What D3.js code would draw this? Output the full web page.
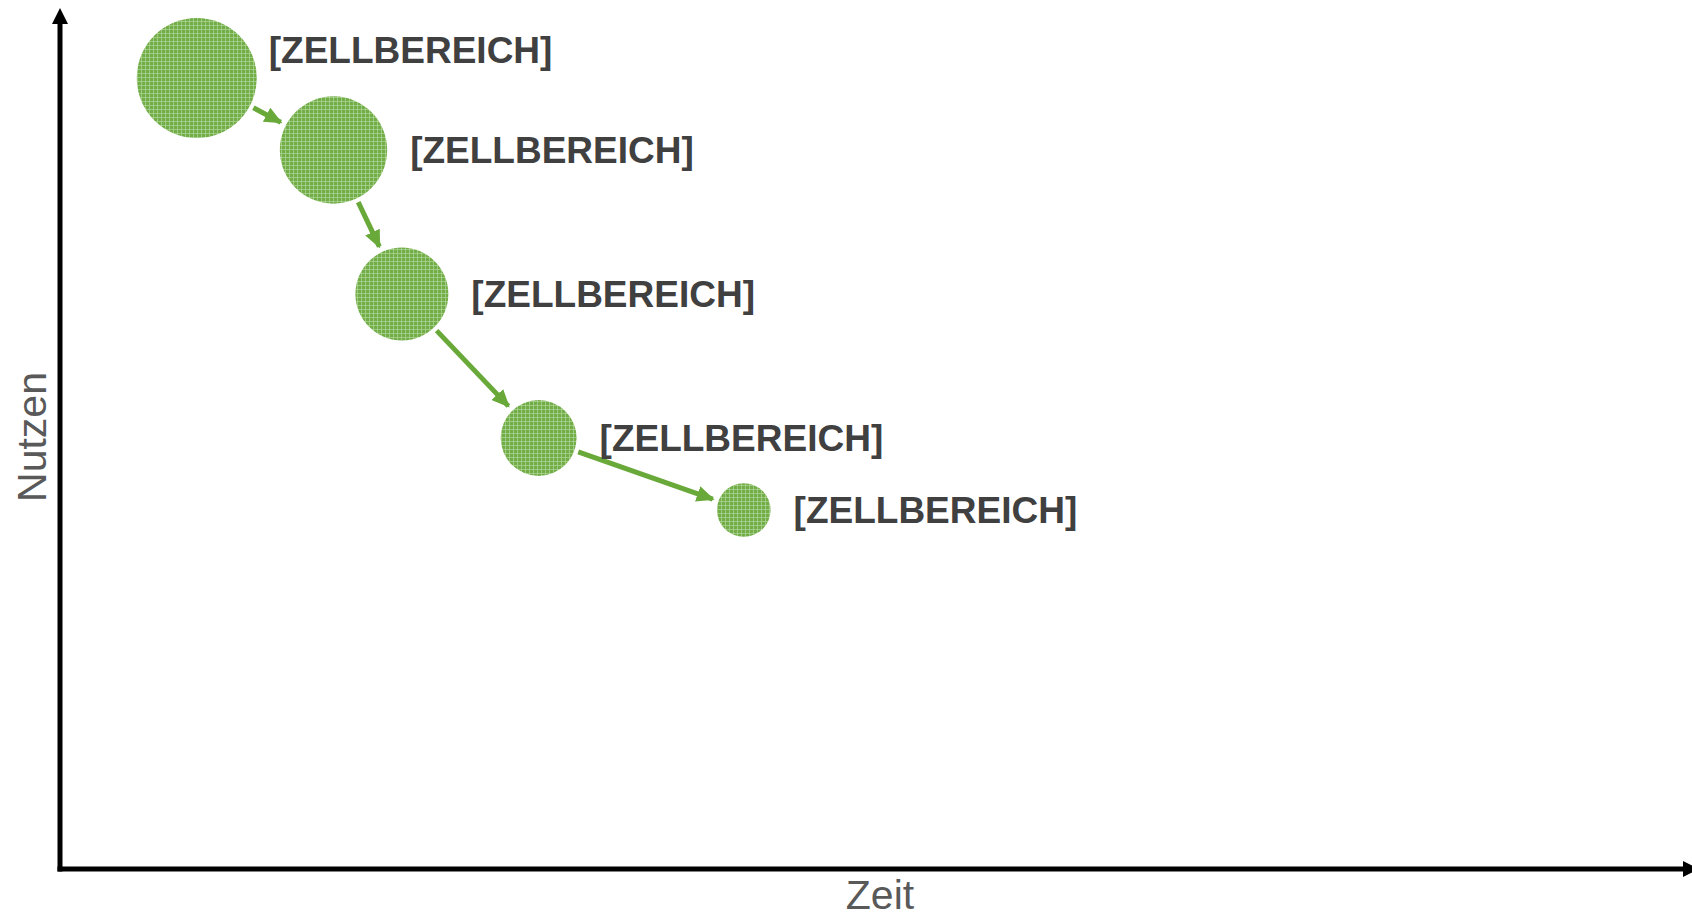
<!DOCTYPE html>
<html>
<head>
<meta charset="utf-8">
<script src="https://cdn.jsdelivr.net/npm/d3@7/dist/d3.min.js"></script>
<style>
  body { margin: 0; background: #fff; }
  svg { display: block; }
</style>
</head>
<body>
<svg id="chart" width="1692" height="918"></svg>
<script>
"use strict";

// chart data
var zeitValues = [1, 2, 2.5, 3.5, 5];          // x: Zeit
var nutzenValues = [11, 10, 8, 6, 5];          // y: Nutzen
var bubbleSizes = [100, 80, 60, 40, 20];       // bubble size
var bubbleLabels = ["[ZELLBEREICH]", "[ZELLBEREICH]", "[ZELLBEREICH]", "[ZELLBEREICH]", "[ZELLBEREICH]"];
var xTitle = "Zeit";
var yTitle = "Nutzen";

var svg = d3.select("#chart");
var width = +svg.attr("width");
var height = +svg.attr("height");

var green = "#69a93a";

var x = d3.scaleLinear().domain([0, 12]).range([60, 1701]);
var y = d3.scaleLinear().domain([0, 12]).range([870, 6]);
var r = d3.scaleSqrt().domain([0, 100]).range([0, 60]);

var axisY = 869; // x-axis line sits just above y(0)

var points = zeitValues.map(function (d, i) {
    return { x: d, y: nutzenValues[i], size: bubbleSizes[i], label: bubbleLabels[i] };
});

var defs = svg.append("defs");

// fine woven fill of the bubbles
var pat = defs.append("pattern")
    .attr("id", "weave")
    .attr("width", 8)
    .attr("height", 8)
    .attr("patternUnits", "userSpaceOnUse");
pat.append("rect").attr("width", 8).attr("height", 8).attr("fill", "#72ae48");
[[0, 1, 8, 1], [0, 5, 8, 1], [1, 0, 1, 8], [5, 0, 1, 8]].forEach(function (s) {
    pat.append("rect")
        .attr("x", s[0]).attr("y", s[1])
        .attr("width", s[2]).attr("height", s[3])
        .attr("fill", "#aed394")
        .attr("opacity", 0.75);
});

// arrow heads
defs.append("marker")
    .attr("id", "greenHead")
    .attr("markerUnits", "userSpaceOnUse")
    .attr("viewBox", "0 0 18 16")
    .attr("refX", 16)
    .attr("refY", 8)
    .attr("markerWidth", 18)
    .attr("markerHeight", 16)
    .attr("orient", "auto")
    .append("path")
    .attr("d", "M0,0 L18,8 L0,16 Z")
    .attr("fill", green);

defs.append("marker")
    .attr("id", "blackHead")
    .attr("markerUnits", "userSpaceOnUse")
    .attr("viewBox", "0 0 16 16")
    .attr("refX", 2)
    .attr("refY", 8)
    .attr("markerWidth", 16)
    .attr("markerHeight", 16)
    .attr("orient", "auto")
    .append("path")
    .attr("d", "M0,0 L16,8 L0,16 Z")
    .attr("fill", "#000");

// axes
svg.append("line")
    .attr("x1", x(0)).attr("y1", axisY + 2.5)
    .attr("x2", x(0)).attr("y2", 22)
    .attr("stroke", "#000")
    .attr("stroke-width", 5)
    .attr("marker-end", "url(#blackHead)");

svg.append("line")
    .attr("x1", x(0) - 2.5).attr("y1", axisY)
    .attr("x2", x(12) - 16).attr("y2", axisY)
    .attr("stroke", "#000")
    .attr("stroke-width", 5)
    .attr("marker-end", "url(#blackHead)");

// axis titles
svg.append("text")
    .attr("x", 880)
    .attr("y", 909)
    .attr("text-anchor", "middle")
    .style("font-family", "'Liberation Sans', Arial, sans-serif")
    .style("font-size", "41px")
    .attr("fill", "#595959")
    .text(xTitle);

svg.append("text")
    .attr("transform", "translate(46," + 437 + ") rotate(-90)")
    .attr("text-anchor", "middle")
    .style("font-family", "'Liberation Sans', Arial, sans-serif")
    .style("font-size", "41px")
    .attr("fill", "#595959")
    .text(yTitle);

// connecting arrows, edge to edge with a small gap
d3.pairs(points).forEach(function (p) {
    var a = p[0], b = p[1];
    var ax = x(a.x), ay = y(a.y), bx = x(b.x), by = y(b.y);
    var len = Math.hypot(bx - ax, by - ay);
    var ux = (bx - ax) / len, uy = (by - ay) / len;
    var ra = r(a.size) + 4, rb = r(b.size) + 6;
    svg.append("line")
        .attr("x1", ax + ux * ra).attr("y1", ay + uy * ra)
        .attr("x2", bx - ux * rb).attr("y2", by - uy * rb)
        .attr("stroke", green)
        .attr("stroke-width", 5)
        .attr("marker-end", "url(#greenHead)");
});

// bubbles
svg.selectAll("circle.bubble")
    .data(points)
    .enter()
    .append("circle")
    .classed("bubble", true)
    .attr("cx", function (d) { return x(d.x); })
    .attr("cy", function (d) { return y(d.y); })
    .attr("r", function (d) { return r(d.size); })
    .attr("fill", "url(#weave)");

// data labels, right of each bubble (first one lifted up)
svg.selectAll("text.label")
    .data(points)
    .enter()
    .append("text")
    .classed("label", true)
    .attr("x", function (d, i) { return x(d.x) + r(d.size) + (i === 0 ? 12 : 23); })
    .attr("y", function (d, i) { return y(d.y) + 13 - (i === 0 ? 28 : 0); })
    .style("font-family", "'Liberation Sans', Arial, sans-serif")
    .style("font-size", "37px")
    .style("font-weight", "bold")
    .attr("fill", "#404040")
    .text(function (d) { return d.label; });
</script>
</body>
</html>
